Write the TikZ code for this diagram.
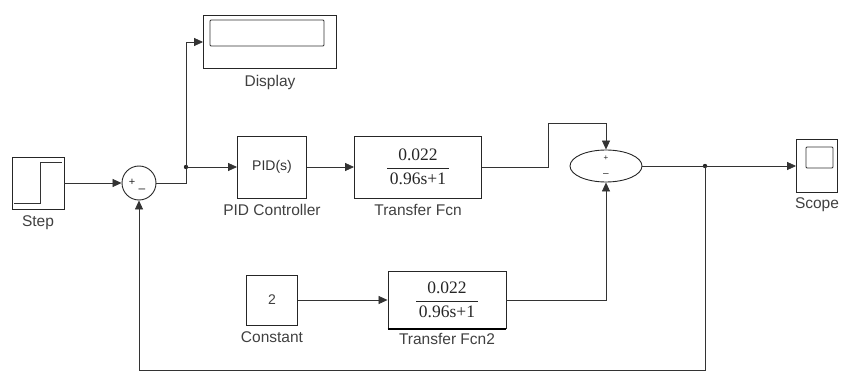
\documentclass[tikz,border=0pt]{standalone}
\usepackage{amsmath}
\usepackage{fontspec}
\setmainfont{Liberation Sans}
\newfontfamily\numfont{Liberation Serif}
\usetikzlibrary{positioning,arrows.meta,shapes.geometric}

% transfer function gain
\newcommand{\gainfrac}{$\genfrac{}{}{0.8pt}{0}{\text{\numfont 0.022}}{\text{\numfont\,0.96s+1\,}}$}

\begin{document}
\begin{tikzpicture}[x=1pt,y=-1pt,
  wire/.style={draw=black!80,line width=0.7pt},
  sig/.style={wire,-{Triangle[length=9pt,width=8pt]}},
  blk/.style={draw=black!85,line width=0.9pt,rectangle,inner sep=0pt},
  lbl/.style={font=\fontsize{15.5}{17}\selectfont,text=black!75,inner sep=1pt},
  tfn/.style={font=\fontsize{17.5}{19}\selectfont,text=black!85},
  sgn/.style={inner sep=0pt,text=black!85}]

\useasboundingbox (0,0) rectangle (848,374);

%%%%%%%%%%%%%%%%%%%%%%%%%%%%%%%%%%%%%%%%%%%%%%%%%%
% Blocks
%%%%%%%%%%%%%%%%%%%%%%%%%%%%%%%%%%%%%%%%%%%%%%%%%%

% Step
\node[blk,minimum width=52pt,minimum height=52pt] (step) at (38,183) {};
\draw[wire] (14,203)--(40,203)--(40,162)--(62,162);
\node[lbl,below=5pt of step] (steplbl) {Step};

% First sum
\node[draw=black!85,line width=0.9pt,circle,minimum size=34pt,inner sep=0pt] (sumA) at (139,183) {};
\node[sgn,font=\fontsize{11}{11}\selectfont] at (132,182) {+};
\node[sgn,font=\fontsize{12}{12}\selectfont] at (142,191) {--};

% Display
\node[blk,minimum width=133pt,minimum height=53pt] (disp) at (270,42) {};
\draw[black!80,line width=0.8pt,rounded corners=1pt] (210,20) rectangle (324,46);
\node[lbl,below=5pt of disp] (displbl) {Display};

% PID controller
\node[blk,minimum width=69pt,minimum height=62pt,font=\fontsize{14}{16}\selectfont,text=black!80] (pid) at (272,167) {PID(s)};
\node[lbl,below=5pt of pid] (pidlbl) {PID Controller};

% Transfer functions
\node[blk,minimum width=127pt,minimum height=62pt,tfn] (tf) at (418,167) {\gainfrac};
\node[lbl,below=5pt of tf] (tflbl) {Transfer Fcn};

\node[blk,minimum width=51pt,minimum height=50pt,font=\fontsize{14}{16}\selectfont,text=black!75] (const) at (272,300) {2};
\node[lbl,below=5pt of const] (constlbl) {Constant};

\node[blk,minimum width=118pt,minimum height=57pt,tfn] (tfB) at (447,300) {\gainfrac};
\draw[black,line width=1.6pt] (tfB.south west)--(tfB.south east);
\node[lbl,below=3pt of tfB] (tfBlbl) {Transfer Fcn2};

% Second sum
\node[draw=black!85,line width=0.9pt,ellipse,minimum width=72pt,minimum height=32pt,inner sep=0pt] (sumB) at (606,166) {};
\node[sgn,font=\fontsize{8}{8}\selectfont] at (606,158) {+};
\node[sgn,font=\fontsize{10}{10}\selectfont] at (606,175) {--};

% Scope
\node[blk,minimum width=41pt,minimum height=53pt] (scope) at (817,166) {};
\draw[black!80,line width=0.8pt,rounded corners=1pt] (806,147) rectangle (833,168);
\node[lbl,below=4pt of scope] (scopelbl) {Scope};

%%%%%%%%%%%%%%%%%%%%%%%%%%%%%%%%%%%%%%%%%%%%%%%%%%
% Signals
%%%%%%%%%%%%%%%%%%%%%%%%%%%%%%%%%%%%%%%%%%%%%%%%%%

% Branch points
\coordinate (brA) at (186,167);
\coordinate (brB) at (705,166);
\coordinate (up) at (548,123);
\coordinate (fb) at (705,370);
\fill[black!85] (brA) circle (2.2pt);
\fill[black!85] (brB) circle (2.2pt);

\draw[sig] (step.east)--(sumA.west);
\draw[wire] (sumA.east)-|(brA);
\draw[sig] (brA)--(pid.west);
\draw[sig] (brA)|-(disp.west);
\draw[sig] (pid.east)--(tf.west);
\draw[sig] (tf.east)-|(up)-|(sumB.north);
\draw[wire] (sumB.east)--(brB);
\draw[sig] (brB)--(scope.west);
\draw[sig] (brB)--(fb)-|(sumA.south);
\draw[sig] (const.east)--(tfB.west);
\draw[sig] (tfB.east)-|(sumB.south);

\end{tikzpicture}
\end{document}
